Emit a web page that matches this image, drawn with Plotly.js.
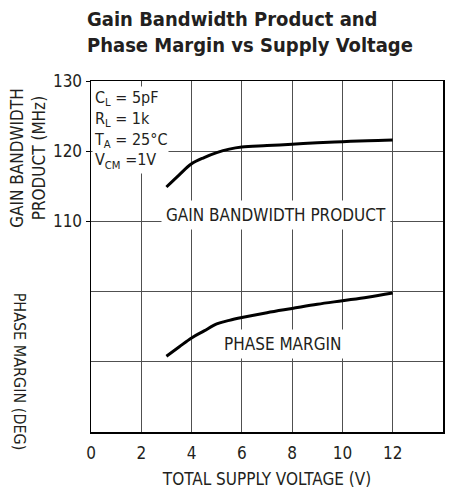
<!DOCTYPE html>
<html>
<head>
<meta charset="utf-8">
<script src="https://cdn.plot.ly/plotly-3.0.1.min.js"></script>
<style>html,body{margin:0;padding:0;background:#fff;}#chart{width:450px;height:489px;}</style>
</head>
<body>
<div id="chart"></div>
<script>
// Data
const supplyV   = [3, 3.5, 4, 4.5, 5, 5.5, 6, 7, 8, 9, 10, 11, 12];
const gbwMHz    = [114.9, 116.6, 118.2, 119.1, 119.8, 120.3, 120.6, 120.8, 121.0, 121.2, 121.35, 121.5, 121.6];
const phaseDeg  = [30.8, 32.1, 33.4, 34.4, 35.4, 35.9, 36.3, 37.0, 37.6, 38.2, 38.7, 39.2, 39.8];
const xTicks    = [0, 2, 4, 6, 8, 10, 12, 14];
const gbwTicks  = [110, 120, 130];
const phaseGrid = [30, 40];

const FONT = "'DejaVu Sans Condensed', 'Liberation Sans Narrow', 'Arial Narrow', sans-serif";
const INK = '#231f20';
const GRID = '#505050';

const traces = [
  {x: supplyV, y: gbwMHz, type: 'scatter', mode: 'lines', name: 'Gain Bandwidth Product',
   line: {color: '#000', width: 3, shape: 'spline'}, yaxis: 'y', hoverinfo: 'x+y'},
  {x: supplyV, y: phaseDeg, type: 'scatter', mode: 'lines', name: 'Phase Margin',
   line: {color: '#000', width: 3, shape: 'spline'}, yaxis: 'y2', hoverinfo: 'x+y'}
];

const layout = {
  width: 450, height: 489,
  margin: {l: 91, r: 7, t: 81, b: 57, pad: 0},
  paper_bgcolor: '#fff', plot_bgcolor: '#fff',
  showlegend: false,
  font: {family: FONT, color: INK, size: 17},
  title: {
    text: '<b>Gain Bandwidth Product and<br>Phase Margin vs Supply Voltage</b>',
    font: {family: FONT, size: 20, color: INK},
    x: 87/450, xanchor: 'left', xref: 'container',
    y: 0.947, yanchor: 'top', yref: 'container'
  },
  xaxis: {
    range: [0, 14], tickvals: xTicks, ticks: '', showgrid: true, gridcolor: GRID, gridwidth: 1,
    showline: true, mirror: true, linecolor: '#000', linewidth: 1.5, zeroline: false,
    tickfont: {size: 17, color: INK}, ticklabelstandoff: 5,
    title: {text: 'TOTAL SUPPLY VOLTAGE (V)', font: {size: 17, color: INK}, standoff: 11}
  },
  yaxis: {
    range: [80, 130], tickvals: gbwTicks, ticks: 'outside', ticklen: 4, tickcolor: '#000',
    showgrid: true, gridcolor: GRID, gridwidth: 1,
    showline: true, mirror: true, linecolor: '#000', linewidth: 1.5, zeroline: false,
    tickfont: {size: 17, color: INK}
  },
  yaxis2: {
    overlaying: 'y', side: 'left', range: [20, 70], tickvals: phaseGrid,
    showticklabels: false, ticks: '', showgrid: true, gridcolor: GRID, gridwidth: 1,
    showline: false, zeroline: false
  },
  annotations: [
    {text: 'C<sub>L</sub> = 5pF<br>R<sub>L</sub> = 1k<br>T<sub>A</sub> = 25°C<br>V<sub>CM</sub> =1V',
     xref: 'x', yref: 'paper', x: 0.05, y: 0.985, xanchor: 'left', yanchor: 'top',
     align: 'left', showarrow: false, bgcolor: '#fff', borderpad: 1,
     font: {size: 16, color: INK}},
    {text: 'GAIN BANDWIDTH PRODUCT', xref: 'x', yref: 'y', x: 7.37, y: 110.85,
     showarrow: false, bgcolor: '#fff', borderpad: 4, font: {size: 17, color: INK}},
    {text: 'PHASE MARGIN', xref: 'x', yref: 'y', x: 7.65, y: 92.5,
     showarrow: false, bgcolor: '#fff', borderpad: 4, font: {size: 17, color: INK}},
    {text: 'GAIN BANDWIDTH<br>PRODUCT (MHz)', xref: 'paper', yref: 'paper',
     x: (28 - 91) / 352, y: 0.781, xanchor: 'center', yanchor: 'middle',
     textangle: -90, showarrow: false, font: {size: 17, color: INK}},
    {text: 'PHASE MARGIN (DEG)', xref: 'paper', yref: 'paper',
     x: (19 - 91) / 352, y: 0.172, xanchor: 'center', yanchor: 'middle',
     textangle: 90, showarrow: false, font: {size: 16, color: INK}}
  ]
};

Plotly.newPlot('chart', traces, layout, {staticPlot: true, displayModeBar: false});
</script>
</body>
</html>
